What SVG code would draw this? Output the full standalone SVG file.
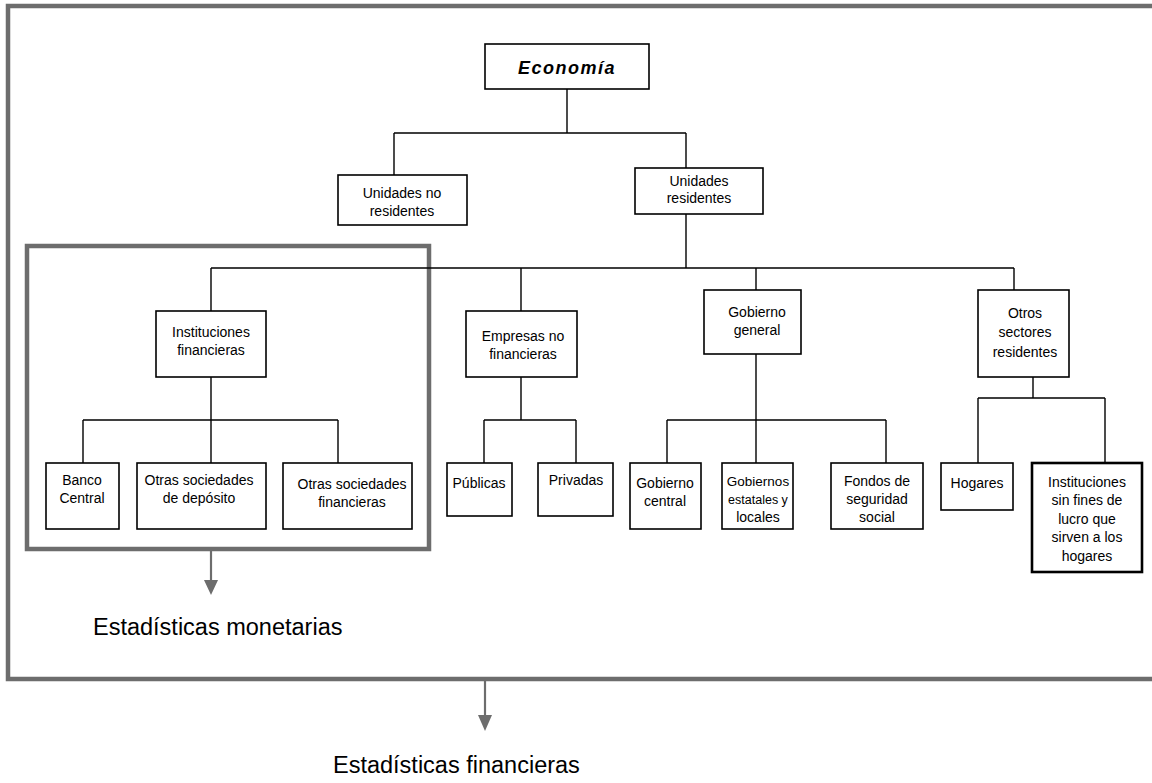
<svg xmlns="http://www.w3.org/2000/svg" width="1152" height="783" viewBox="0 0 1152 783">
<defs>
<style>
.box{fill:#fff;stroke:#000;stroke-width:1.6}
.thick{stroke-width:2.6}
.t{font-family:"Liberation Sans",Arial,sans-serif;font-size:14px;fill:#000;text-anchor:middle}
.big{font-family:"Liberation Sans",Arial,sans-serif;font-size:23.5px;fill:#000}
.frame{fill:none;stroke:#6d6d6d;stroke-width:4.5}
.ln{fill:none;stroke:#000;stroke-width:1.4}
.arr{fill:none;stroke:#6d6d6d;stroke-width:2.2}
.head{fill:#6d6d6d}
</style>
</defs>
<rect width="1152" height="783" fill="#fff"/>
<g id="frames">
<path class="frame" d="M1160,6 H8 V679 H1160"/>
<rect class="frame" x="27" y="246" width="402" height="303"/>
</g>
<g id="connectors">
<path class="ln" d="M567,89 V133 M394,133 H686 M394,133 V175 M686,133 V168"/>
<path class="ln" d="M686,214 V268 M211,268 H1014 M211,268 V311 M521,268 V311 M756,268 V290 M1014,268 V290"/>
<path class="ln" d="M211,377 V420 M83,420 H338 M83,420 V463 M211,420 V463 M338,420 V463"/>
<path class="ln" d="M521,377 V420 M484,420 H576 M484,420 V463 M576,420 V463"/>
<path class="ln" d="M756,354 V420 M667,420 H886 M667,420 V463 M756,420 V463 M886,420 V463"/>
<path class="ln" d="M1033,377 V398 M978,398 H1105 M978,398 V463 M1105,398 V463"/>
<path d="M211,551 V580" class="arr"/>
<path d="M204,580 L218,580 L211,595 Z" class="head"/>
<path d="M485,681 V715" class="arr"/>
<path d="M478,715 L492,715 L485,731 Z" class="head"/>
</g>
<g id="economia">
<rect class="box" x="485" y="44" width="164" height="45"/>
<text x="567" y="74" font-family="Liberation Sans,Arial,sans-serif" font-size="18" font-weight="bold" font-style="italic" letter-spacing="1.5" text-anchor="middle">Economía</text>
</g>
<g id="no-residentes">
<rect class="box" x="338" y="175" width="129" height="50"/>
<text class="t" x="402" y="198">Unidades no</text>
<text class="t" x="402" y="216">residentes</text>
</g>
<g id="residentes">
<rect class="box" x="635" y="168" width="128" height="46"/>
<text class="t" x="699" y="186">Unidades</text>
<text class="t" x="699" y="203">residentes</text>
</g>
<g id="inst-financieras">
<rect class="box" x="156" y="311" width="110" height="66"/>
<text class="t" x="211" y="337">Instituciones</text>
<text class="t" x="211" y="355">financieras</text>
</g>
<g id="banco-central">
<rect class="box" x="46" y="463" width="73" height="66"/>
<text class="t" x="82" y="485">Banco</text>
<text class="t" x="82" y="503">Central</text>
</g>
<g id="otras-deposito">
<rect class="box" x="137" y="463" width="129" height="66"/>
<text class="t" x="199" y="485">Otras sociedades</text>
<text class="t" x="199" y="503">de depósito</text>
</g>
<g id="otras-financieras">
<rect class="box" x="283" y="463" width="129" height="66"/>
<text class="t" x="352" y="489">Otras sociedades</text>
<text class="t" x="352" y="507">financieras</text>
</g>
<g id="empresas">
<rect class="box" x="466" y="311" width="111" height="66"/>
<text class="t" x="523" y="341">Empresas no</text>
<text class="t" x="523" y="359">financieras</text>
</g>
<g id="publicas">
<rect class="box" x="447" y="463" width="65" height="53"/>
<text class="t" x="479" y="488">Públicas</text>
</g>
<g id="privadas">
<rect class="box" x="538" y="463" width="75" height="53"/>
<text class="t" x="576" y="485">Privadas</text>
</g>
<g id="gobierno-general">
<rect class="box" x="704" y="290" width="97" height="64"/>
<text class="t" x="757" y="317">Gobierno</text>
<text class="t" x="757" y="335">general</text>
</g>
<g id="gobierno-central">
<rect class="box" x="630" y="463" width="71" height="66"/>
<text class="t" x="665" y="488">Gobierno</text>
<text class="t" x="665" y="506">central</text>
</g>
<g id="gobiernos-estatales">
<rect class="box" x="722" y="463" width="71" height="66"/>
<text class="t" x="758" y="486" style="font-size:13.5px">Gobiernos</text>
<text class="t" x="758" y="504" style="font-size:12.5px">estatales y</text>
<text class="t" x="758" y="522">locales</text>
</g>
<g id="fondos">
<rect class="box" x="831" y="463" width="92" height="66"/>
<text class="t" x="877" y="486">Fondos de</text>
<text class="t" x="877" y="504">seguridad</text>
<text class="t" x="877" y="522">social</text>
</g>
<g id="otros-sectores">
<rect class="box" x="978" y="290" width="91" height="87"/>
<text class="t" x="1025" y="318">Otros</text>
<text class="t" x="1025" y="337">sectores</text>
<text class="t" x="1025" y="357">residentes</text>
</g>
<g id="hogares">
<rect class="box" x="941" y="463" width="72" height="47"/>
<text class="t" x="977" y="488">Hogares</text>
</g>
<g id="isflsh">
<rect class="box thick" x="1032" y="463" width="110" height="109"/>
<text class="t" x="1087" y="487">Instituciones</text>
<text class="t" x="1087" y="505">sin fines de</text>
<text class="t" x="1087" y="524">lucro que</text>
<text class="t" x="1087" y="542">sirven a los</text>
<text class="t" x="1087" y="561">hogares</text>
</g>
<g id="labels">
<text class="big" x="93" y="635">Estadísticas monetarias</text>
<text class="big" x="333" y="773">Estadísticas financieras</text>
</g>
</svg>
